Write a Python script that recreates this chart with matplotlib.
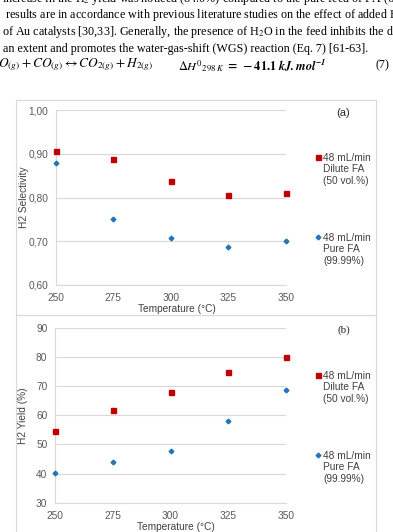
import matplotlib
matplotlib.use('Agg')
import matplotlib.pyplot as plt
from matplotlib.patches import Rectangle
from matplotlib.ticker import FuncFormatter

# --- data ---
temps = [250, 275, 300, 325, 350]
sel_dilute = [0.907, 0.887, 0.837, 0.806, 0.810]
sel_pure = [0.878, 0.751, 0.708, 0.686, 0.701]
yield_dilute = [54.7, 61.8, 68.0, 74.9, 80.0]
yield_pure = [40.2, 44.0, 47.7, 58.0, 68.6]

label_dilute = "48 mL/min\nDilute FA\n(50 vol.%)"
label_pure = "48 mL/min\nPure FA\n(99.99%)"

RED = '#C00000'
BLUE = '#2474BA'
GRID = '#D9D9D9'
TICK = '#595959'
LAB = '#404040'

W, H = 393, 532
plt.rcParams['font.family'] = ['Liberation Sans', 'DejaVu Sans']
plt.rcParams['mathtext.fontset'] = 'stix'

fig = plt.figure(figsize=(W / 100, H / 100), dpi=100)

# --- paper text above the chart ---
serif = ['Liberation Serif', 'DejaVu Serif']
body = [
    (-1, "increase in the H$_2$ yield was noticed (84.0%) compared to the pure feed of FA (68.6%)"),
    (15, "results are in accordance with previous literature studies on the effect of added H$_2$O"),
    (32, "of Au catalysts [30,33]. Generally, the presence of H$_2$O in the feed inhibits the decomposition"),
    (49, "an extent and promotes the water-gas-shift (WGS) reaction (Eq. 7) [61-63]."),
]
xs = [2, 5, 2, 3]
for (ypix, s), xp in zip(body, xs):
    fig.text(xp / W, 1 - ypix / H, s, family=serif, fontsize=8.7, va='center', ha='left')
fig.text(-17 / W, 1 - 65 / H, r"$H_2O_{(g)} + CO_{(g)} \leftrightarrow CO_{2(g)} + H_{2(g)}$",
         fontsize=9.6, va='center', ha='left')
fig.text(178 / W, 1 - 65 / H, r"$\Delta H^{0}{}_{298\,K}\ \mathbf{=\ -41.1}\ \mathbfit{kJ.mol^{-1}}$",
         fontsize=8.9, va='center', ha='left')
fig.text(376 / W, 1 - 65 / H, "(7)", family=serif, fontsize=8.7, va='center', ha='left')

# --- chart frames ---
for top, bot in [(100, 315), (315, 540)]:
    fig.patches.append(Rectangle((16 / W, 1 - bot / H), 360 / W, (bot - top) / H,
                                 transform=fig.transFigure, fill=False,
                                 edgecolor=GRID, linewidth=0.8))


def make_axes(left, right, top, bot):
    return fig.add_axes([left / W, 1 - bot / H, (right - left) / W, (bot - top) / H])


ax1 = make_axes(55.7, 286, 110, 285)
ax2 = make_axes(55.0, 286, 328, 502.7)

panels = [
    (ax1, sel_dilute, sel_pure, (0.6, 1.0), [0.6, 0.7, 0.8, 0.9, 1.0], "H2 Selectivity",
     lambda v, p: f"{v:.2f}".replace('.', ','), "(a)", ['Liberation Sans']),
    (ax2, yield_dilute, yield_pure, (30, 90), [30, 40, 50, 60, 70, 80, 90], "H2 Yield (%)",
     lambda v, p: f"{v:.0f}", "(b)", serif),
]

for ax, ydil, ypure, ylim, yt, ylab, fmt, tag, tagfont in panels:
    l1, = ax.plot(temps, ydil, linestyle='none', marker='s', markersize=3.6,
                  color=RED, clip_on=False, zorder=3)
    l2, = ax.plot(temps, ypure, linestyle='none', marker='D', markersize=2.4,
                  color=BLUE, clip_on=False, zorder=3)
    ax.set_xlim(250, 350)
    ax.set_ylim(*ylim)
    ax.set_xticks(temps)
    ax.set_yticks(yt)
    ax.yaxis.set_major_formatter(FuncFormatter(fmt))
    ax.grid(axis='y', color=GRID, linewidth=0.8)
    ax.set_axisbelow(True)
    for side in ['top', 'right']:
        ax.spines[side].set_visible(False)
    for side in ['left', 'bottom']:
        ax.spines[side].set_color(GRID)
        ax.spines[side].set_linewidth(0.8)
    ax.tick_params(axis='both', length=0, labelsize=7.3, labelcolor=TICK)
    ax.tick_params(axis='y', pad=5.5)
    ax.tick_params(axis='x', pad=6)
    ax.set_ylabel(ylab, fontsize=7.3, color=LAB)
    ax.yaxis.set_label_coords(-0.118, 0.5)
    ax.set_xlabel("Temperature (°C)", fontsize=7.3, color=LAB)
    ax.xaxis.set_label_coords(0.525, -0.108)
    ax.text(1.25, 0.985, tag, transform=ax.transAxes, fontsize=8, family=tagfont,
            ha='center', va='center', color='#262626')

    leg = ax.legend([l1, l2], [label_dilute, label_pure], loc='upper left',
                    bbox_to_anchor=(1.127, 0.755), frameon=False, fontsize=7.3,
                    labelspacing=4.6, handlelength=0.5, handletextpad=0.3,
                    borderpad=0, borderaxespad=0)
    for t in leg.get_texts():
        t.set_color(LAB)
    # put the key beside the first line of each entry, like the original
    for h in leg.legend_handles:
        h.set_ydata(h.get_ydata() + 9)

fig.savefig('out.png', dpi=100)
